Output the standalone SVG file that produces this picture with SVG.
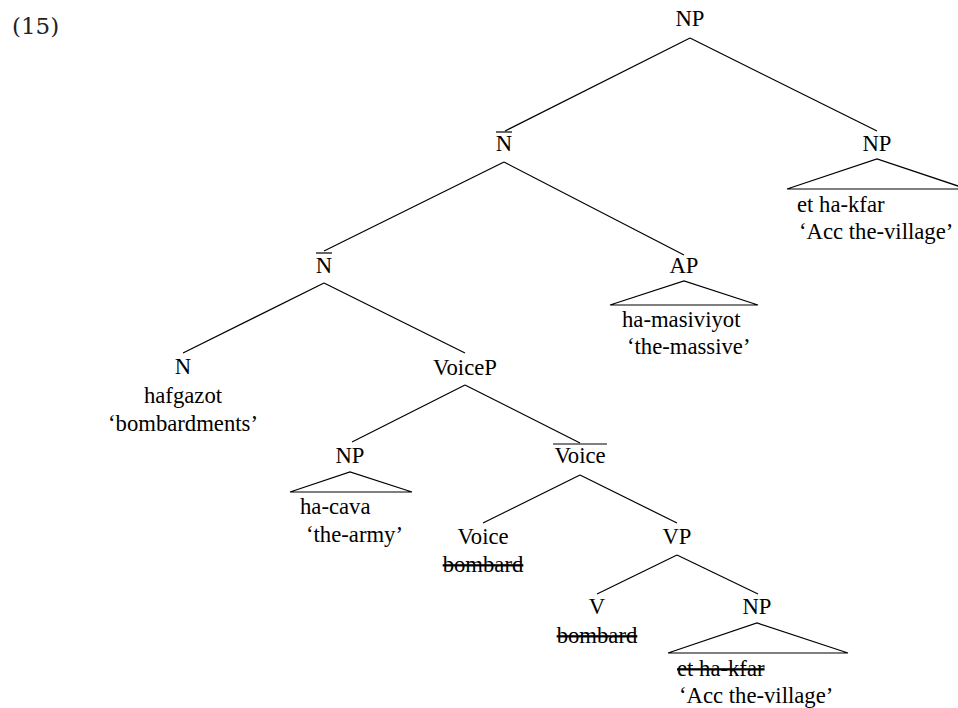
<svg xmlns="http://www.w3.org/2000/svg" width="958" height="708" viewBox="0 0 958 708">
<style>
text{font-family:"Liberation Serif","Times New Roman",serif;font-size:22.7px;fill:#000}
.c{text-anchor:middle}
.s{text-decoration:line-through}
.num{font-family:"DejaVu Serif",serif;font-size:23px;fill:#222}
line,polyline,path{stroke:#000;stroke-width:1.2;fill:none}
</style>
<rect width="958" height="708" fill="#fff"/>
<text class="num" x="12" y="34">(15)</text>
<g id="connectors">
<line x1="690" y1="38" x2="505" y2="131"/>
<line x1="690" y1="38" x2="877" y2="131"/>
<line x1="504" y1="162" x2="324" y2="251"/>
<line x1="504" y1="162" x2="684" y2="255"/>
<line x1="324" y1="283" x2="183" y2="353"/>
<line x1="324" y1="283" x2="465" y2="353"/>
<line x1="465" y1="385" x2="352" y2="442"/>
<line x1="465" y1="385" x2="580" y2="443"/>
<line x1="580" y1="475" x2="483" y2="523"/>
<line x1="580" y1="475" x2="677" y2="523"/>
<line x1="677" y1="555" x2="597" y2="594"/>
<line x1="677" y1="555" x2="758" y2="594"/>
</g>
<g id="np-root"><text class="c" x="690" y="26">NP</text></g>
<g id="nbar-upper"><text class="c" x="504" y="151">N</text><line x1="496" y1="132" x2="512" y2="132"/></g>
<g id="np-right">
<text class="c" x="877" y="151">NP</text>
<path d="M787 189 L877 159 L967 189 Z"/>
<text x="797" y="212">et ha-kfar</text>
<text x="799" y="239">‘Acc the-village’</text>
</g>
<g id="nbar-lower"><text class="c" x="324" y="273">N</text><line x1="316" y1="253" x2="332" y2="253"/></g>
<g id="ap">
<text class="c" x="684" y="273">AP</text>
<path d="M610 305 L684 281 L758 305 Z"/>
<text x="622" y="327">ha-masiviyot</text>
<text x="627" y="354">‘the-massive’</text>
</g>
<g id="n">
<text class="c" x="183" y="374">N</text>
<text class="c" x="183" y="403">hafgazot</text>
<text class="c" x="183" y="431">‘bombardments’</text>
</g>
<g id="voicep"><text class="c" x="465" y="375">VoiceP</text></g>
<g id="np-subject">
<text class="c" x="350" y="463">NP</text>
<path d="M290 492 L350 472 L412 492 Z"/>
<text x="300" y="514">ha-cava</text>
<text x="306" y="542">‘the-army’</text>
</g>
<g id="voicebar"><text class="c" x="580" y="463">Voice</text><line x1="553" y1="444" x2="607" y2="444"/></g>
<g id="voice">
<text class="c" x="483" y="544">Voice</text>
<text class="c s" x="483" y="572">bombard</text>
</g>
<g id="vp"><text class="c" x="677" y="544">VP</text></g>
<g id="v">
<text class="c" x="597" y="614">V</text>
<text class="c s" x="597" y="643">bombard</text>
</g>
<g id="np-object">
<text class="c" x="757" y="614">NP</text>
<path d="M668 653 L757 623 L848 653 Z"/>
<text class="s" x="677" y="676">et ha-kfar</text>
<text x="679" y="703">‘Acc the-village’</text>
</g>
</svg>
